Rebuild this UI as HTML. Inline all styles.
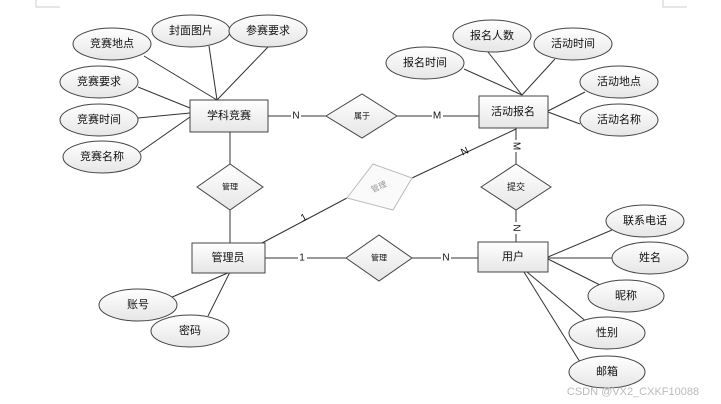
<!DOCTYPE html>
<html><head><meta charset="utf-8"><style>
html,body{margin:0;padding:0;background:#fff;width:721px;height:404px;overflow:hidden}
text{font-family:"Liberation Sans","Noto Sans CJK SC",sans-serif;font-size:11px;fill:#111;text-anchor:middle;dominant-baseline:central}
</style></head><body>
<svg width="721" height="404" viewBox="0 0 721 404" xmlns="http://www.w3.org/2000/svg">
<defs>
<linearGradient id="g" x1="0" y1="0" x2="0" y2="1"><stop offset="0" stop-color="#fff"/><stop offset="1" stop-color="#e6e6e6"/></linearGradient>
</defs>
<g stroke="#ccc" fill="none"><path d="M36 0V7H60"/><path d="M663 0V7H687"/></g>
<g stroke="#333" stroke-width="1" fill="none">
<!-- 学科竞赛 attrs -->
<line x1="144" y1="56" x2="217" y2="100"/>
<line x1="209" y1="46" x2="217" y2="100"/>
<line x1="268" y1="47" x2="217" y2="100"/>
<line x1="138" y1="87" x2="190" y2="108"/>
<line x1="138" y1="118" x2="190" y2="113"/>
<line x1="140" y1="152" x2="190" y2="117"/>
<!-- 活动报名 attrs -->
<line x1="464" y1="69" x2="522" y2="95"/>
<line x1="488" y1="52" x2="522" y2="95"/>
<line x1="555" y1="59" x2="522" y2="95"/>
<line x1="585" y1="92" x2="548" y2="111"/>
<line x1="580" y1="124" x2="548" y2="112"/>
<!-- relationships -->
<line x1="268" y1="116" x2="326" y2="116"/>
<line x1="397" y1="116" x2="479" y2="116"/>
<line x1="230" y1="132" x2="230" y2="164"/>
<line x1="230" y1="210" x2="230" y2="243"/>
<line x1="516" y1="128" x2="516" y2="164"/>
<line x1="516" y1="210" x2="516" y2="242"/>
<line x1="265" y1="258" x2="346" y2="258"/>
<line x1="412" y1="258" x2="478" y2="258"/>
<line x1="262" y1="243" x2="347" y2="198"/>
<line x1="412" y1="178" x2="516" y2="129"/>
<!-- 管理员 attrs -->
<line x1="230" y1="272" x2="170" y2="298"/>
<line x1="230" y1="272" x2="208" y2="316"/>
<!-- 用户 attrs -->
<line x1="548" y1="257" x2="612" y2="230"/>
<line x1="548" y1="258" x2="612" y2="258"/>
<line x1="548" y1="259" x2="600" y2="285"/>
<line x1="527" y1="272" x2="588" y2="323"/>
<line x1="524" y1="272" x2="580" y2="362"/>
</g>
<g stroke="#444" fill="url(#g)">
<rect x="190" y="100" width="78" height="32"/>
<rect x="479" y="96" width="69" height="32"/>
<rect x="192" y="243" width="73" height="30"/>
<rect x="478" y="242" width="70" height="30"/>
<polygon points="326,116 362,94 397,116 362,138"/>
<polygon points="197,187 230,164 263,187 230,210"/>
<polygon points="481,187 516,164 551,187 516,210"/>
<polygon points="346,258 379,235 412,258 379,281"/>
<ellipse cx="112" cy="44" rx="39" ry="16"/>
<ellipse cx="191" cy="31" rx="39" ry="16"/>
<ellipse cx="268" cy="31" rx="39" ry="16"/>
<ellipse cx="99" cy="82" rx="39" ry="16"/>
<ellipse cx="99" cy="120" rx="39" ry="16"/>
<ellipse cx="102" cy="157" rx="39" ry="16"/>
<ellipse cx="492" cy="36" rx="39" ry="16"/>
<ellipse cx="573" cy="44" rx="39" ry="16"/>
<ellipse cx="425" cy="63" rx="39" ry="16"/>
<ellipse cx="619" cy="82" rx="39" ry="16"/>
<ellipse cx="619" cy="120" rx="39" ry="16"/>
<ellipse cx="645" cy="221" rx="39" ry="16"/>
<ellipse cx="650" cy="258" rx="38" ry="16"/>
<ellipse cx="626" cy="296" rx="38" ry="16"/>
<ellipse cx="607" cy="333" rx="38" ry="16"/>
<ellipse cx="607" cy="372" rx="38" ry="16"/>
<ellipse cx="138" cy="305" rx="39" ry="16"/>
<ellipse cx="190" cy="331" rx="39" ry="16"/>
</g>
<polygon points="347,198 373,164 412,178 393,210" fill="#fafafa" stroke="#bbb"/>
<text x="229" y="116">学科竞赛</text>
<text x="513" y="112">活动报名</text>
<text x="228" y="258">管理员</text>
<text x="513" y="257">用户</text>
<text x="362" y="116" style="font-size:8px">属于</text>
<text x="230" y="187" style="font-size:8px">管理</text>
<text x="516" y="187" style="font-size:9px">提交</text>
<text x="379" y="258" style="font-size:8px">管理</text>
<text x="379" y="187" style="font-size:8px;fill:#999" transform="rotate(-25 379 187)">管理</text>
<text x="112" y="44">竞赛地点</text>
<text x="191" y="31">封面图片</text>
<text x="268" y="31">参赛要求</text>
<text x="99" y="82">竞赛要求</text>
<text x="99" y="120">竞赛时间</text>
<text x="102" y="157">竞赛名称</text>
<text x="492" y="36">报名人数</text>
<text x="573" y="44">活动时间</text>
<text x="425" y="63">报名时间</text>
<text x="619" y="82">活动地点</text>
<text x="619" y="120">活动名称</text>
<text x="645" y="221">联系电话</text>
<text x="650" y="258">姓名</text>
<text x="626" y="296">昵称</text>
<text x="607" y="333">性别</text>
<text x="607" y="372">邮箱</text>
<text x="138" y="305">账号</text>
<text x="190" y="331">密码</text>
<g style="font-size:10px">
<rect x="291" y="110" width="10" height="12" fill="#fff"/><text x="296" y="116" style="font-size:10px">N</text>
<rect x="432" y="110" width="11" height="12" fill="#fff"/><text x="437" y="116" style="font-size:10px">M</text>
<rect x="510" y="140" width="12" height="12" fill="#fff"/><text x="516" y="146" style="font-size:10px" transform="rotate(90 516 146)">M</text>
<rect x="510" y="222" width="12" height="12" fill="#fff"/><text x="516" y="228" style="font-size:10px" transform="rotate(90 516 228)">N</text>
<rect x="298" y="252" width="9" height="12" fill="#fff"/><text x="302" y="258" style="font-size:10px">1</text>
<rect x="441" y="252" width="10" height="12" fill="#fff"/><text x="446" y="258" style="font-size:10px">N</text>
<text x="304" y="218" style="font-size:10px" transform="rotate(-28 304 218)">1</text>
<text x="465" y="152" style="font-size:10px" transform="rotate(-25 465 152)">N</text>
</g>
<text x="633" y="392" style="font-size:11px;fill:#bbb">CSDN @VX2_CXKF10088</text>
</svg>
</body></html>
